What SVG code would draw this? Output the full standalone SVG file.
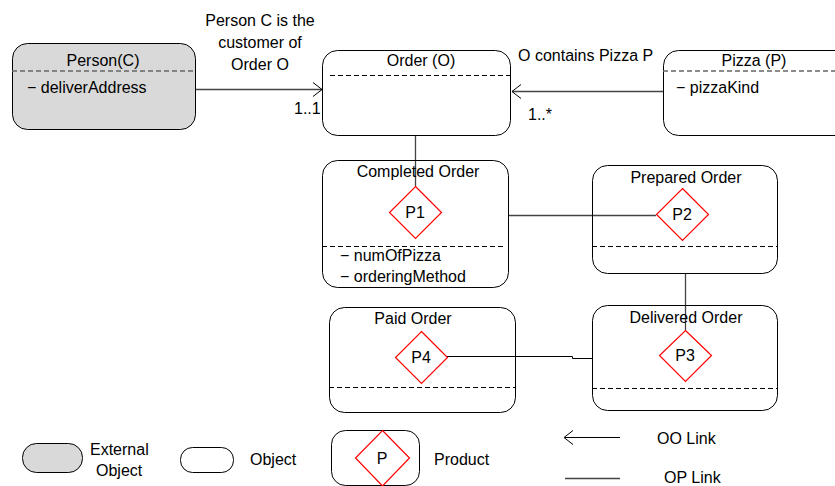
<svg xmlns="http://www.w3.org/2000/svg" width="835" height="486" viewBox="0 0 835 486">
<defs>
<style>
.box{fill:none;stroke:#000;stroke-width:1}
.ext{fill:#d9d9d9;stroke:#000;stroke-width:1}
.dash{stroke:#000;stroke-width:1;stroke-dasharray:5,3;fill:none}
.gdash{stroke:#666;stroke-width:1.5;stroke-dasharray:5,3;fill:none}
.dia{fill:#fff;stroke:#ff0000;stroke-width:1.2}
.ln{stroke:#444;stroke-width:1.3;fill:none}
.arr{fill:none;stroke:#000;stroke-width:1}
text{font-family:"Liberation Sans","Noto Sans CJK JP",sans-serif;font-size:16px;fill:#000}
.c{text-anchor:middle}
</style>
</defs>
<rect width="835" height="486" fill="#fff"/>

<g id="connectors">
<line class="ln" x1="195" y1="89.5" x2="322" y2="89.5"/>
<path class="arr" d="M313,82.5 L322,89.5 L313,96.5"/>
<line class="ln" x1="663" y1="91.5" x2="512" y2="91.5"/>
<path class="arr" d="M521,84.5 L512,91.5 L521,98.5"/>
<line class="ln" x1="415.5" y1="135" x2="415.5" y2="186"/>
<line class="ln" x1="508" y1="215.5" x2="656" y2="215.5"/>
<line class="ln" x1="685.5" y1="273" x2="685.5" y2="330"/>
<path class="arr" d="M447,356.5 H572.5 V358.5 H592"/>
</g>

<g id="person">
<rect class="ext" x="12.5" y="43.5" width="183" height="86" rx="15"/>
<line class="gdash" x1="12" y1="71" x2="195" y2="71"/>
<text class="c" x="103" y="66">Person(C)</text>
<text x="27" y="93">− deliverAddress</text>
</g>

<g id="label-customer">
<text class="c" x="260" y="26">Person C is the</text>
<text class="c" x="260" y="48">customer of</text>
<text class="c" x="260" y="70">Order O</text>
<text x="294" y="114">1..1</text>
</g>

<g id="order">
<rect class="box" x="322.5" y="50.5" width="188" height="85" rx="15"/>
<line class="dash" x1="330" y1="75.5" x2="510" y2="75.5"/>
<text class="c" x="421" y="66">Order (O)</text>
</g>

<g id="label-contains">
<text x="518" y="61">O contains Pizza P</text>
<text x="528" y="120">1..*</text>
</g>

<g id="pizza">
<rect class="box" x="663.5" y="50.5" width="190" height="85" rx="15"/>
<line class="gdash" x1="663" y1="71" x2="835" y2="71"/>
<text class="c" x="754" y="66">Pizza (P)</text>
<text x="676" y="93">− pizzaKind</text>
</g>

<g id="completed">
<rect class="box" x="322.5" y="160.5" width="186" height="127" rx="15"/>
<line class="dash" x1="322" y1="246.5" x2="506" y2="246.5"/>
<text class="c" x="418" y="177">Completed Order</text>
<text x="340" y="261">− numOfPizza</text>
<text x="340" y="282">− orderingMethod</text>
</g>
<g id="p1">
<polygon class="dia" points="415.5,186.5 441.5,212.5 415.5,238.5 389.5,212.5"/>
<text class="c" x="415" y="218">P1</text>
</g>

<g id="prepared">
<rect class="box" x="592.5" y="165.5" width="185" height="108" rx="15"/>
<line class="dash" x1="592" y1="246.5" x2="777" y2="246.5"/>
<text class="c" x="686" y="183">Prepared Order</text>
</g>
<g id="p2">
<polygon class="dia" points="682.5,188.5 708.5,214.5 682.5,240.5 656.5,214.5"/>
<text class="c" x="682" y="220">P2</text>
</g>

<g id="delivered">
<rect class="box" x="592.5" y="305.5" width="185" height="105" rx="15"/>
<line class="dash" x1="592" y1="388.5" x2="777" y2="388.5"/>
<text class="c" x="686" y="323">Delivered Order</text>
</g>
<g id="p3">
<polygon class="dia" points="685.5,330.5 711.5,355.5 685.5,381.5 659.5,355.5"/>
<text class="c" x="685" y="361">P3</text>
</g>

<g id="paid">
<rect class="box" x="329.5" y="307.5" width="186" height="105" rx="15"/>
<line class="dash" x1="329" y1="387.5" x2="515" y2="387.5"/>
<text class="c" x="413" y="324">Paid Order</text>
</g>
<g id="p4">
<polygon class="dia" points="421.5,331.5 447.5,357.5 421.5,383.5 395.5,357.5"/>
<text class="c" x="421" y="363">P4</text>
</g>

<g id="legend">
<rect class="ext" x="22.5" y="443.5" width="60" height="29" rx="14"/>
<text x="90" y="455">External</text>
<text x="96" y="476">Object</text>
<rect class="box" x="180.5" y="447.5" width="53" height="25" rx="12"/>
<text x="250" y="465">Object</text>
<rect class="box" x="331.5" y="430.5" width="88" height="55" rx="14"/>
<polygon class="dia" points="382.5,430.5 409.5,458 382.5,486 355.5,458"/>
<text class="c" x="382" y="464">P</text>
<text x="434" y="465">Product</text>
<line stroke="#000" stroke-width="1" x1="565" y1="437.5" x2="620" y2="437.5"/>
<path class="arr" d="M573,430.5 L564,437.5 L573,444.5"/>
<text x="657" y="444">OO Link</text>
<line stroke="#444" stroke-width="1.3" x1="565" y1="478.5" x2="620" y2="478.5"/>
<text x="664" y="483">OP Link</text>
</g>
</svg>
